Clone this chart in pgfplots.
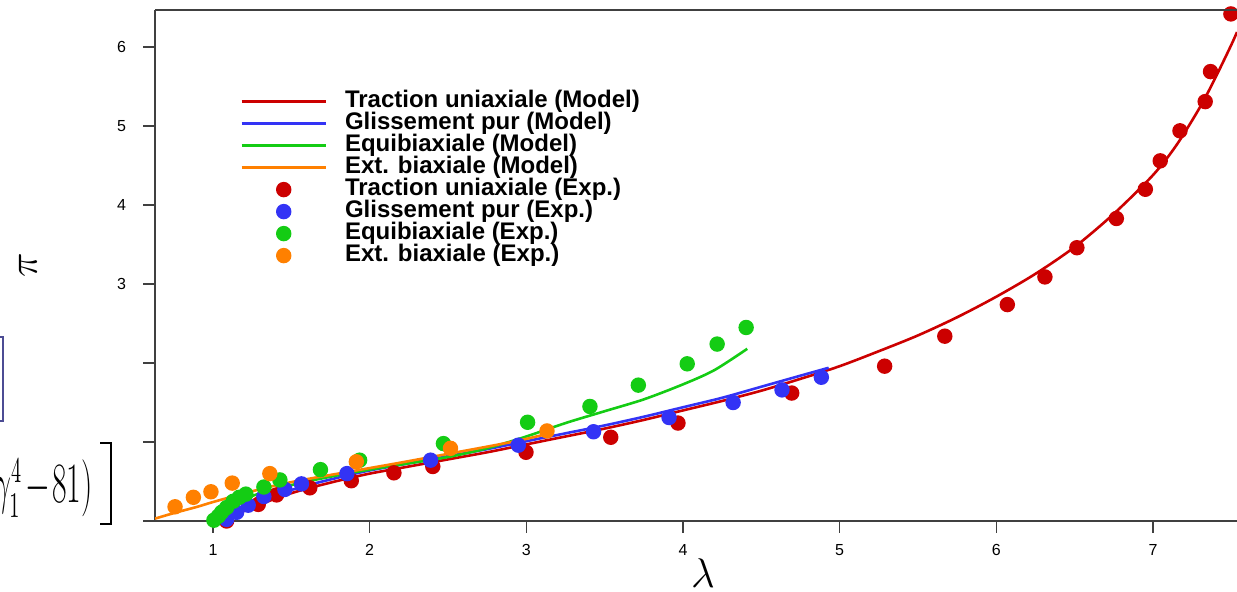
\documentclass[border=0pt]{standalone}
\usepackage{fontspec}
\setmainfont{Liberation Sans}
\usepackage{pgfplots}
\pgfplotsset{compat=1.18}

\definecolor{cRed}{RGB}{204,0,0}
\definecolor{cBlue}{RGB}{51,51,245}
\definecolor{cGreen}{RGB}{20,204,20}
\definecolor{cOrange}{RGB}{255,128,0}
\definecolor{axisgray}{RGB}{64,64,64}

\begin{document}
\begin{tikzpicture}
% page = reference pixel grid (1 px = 0.5pt)
\useasboundingbox (0pt,-296pt) rectangle (618.5pt,0pt);

\begin{axis}[
    at={(77.5pt,-260.5pt)}, anchor=south west,
    scale only axis, width=541pt, height=255.5pt,
    xmin=0.63, xmax=7.536, ymin=0, ymax=6.47,
    axis lines=left,
    axis line style={-, draw=axisgray, line width=1pt},
    every outer x axis line/.append style={-},
    every outer y axis line/.append style={-},
    xtick={1,...,7}, ytick={0,...,6}, yticklabels={,,,3,4,5,6},
    tick align=outside, major tick length=6pt,
    tick style={draw=axisgray, line width=0.7pt},
    tick label style={font=\fontsize{8}{9}\selectfont},
    yticklabel style={xshift=-5pt},
    xticklabel style={yshift=-2pt},
    /pgf/number format/assume math mode=true,
    legend cell align=left,
    legend image code/.code={\draw[mark repeat=2,mark phase=2,#1] plot coordinates {(0pt,0pt) (21pt,0pt) (42pt,0pt)};},
    legend style={at={(rel axis cs:0.0786,0.843)}, anchor=north west,
        draw=none, fill=none, inner sep=0pt, row sep=0pt, column sep=9pt,
        font=\bfseries\fontsize{12}{12}\selectfont,
        nodes={inner ysep=0pt, inner xsep=0pt, text height=8.6pt, text depth=2.4pt}},
    every axis plot/.append style={line width=1.3pt},
]

% model curves
\addplot[cRed, no marks, smooth] coordinates {
(1.00,0) (1.05,0.03) (1.1,0.06) (1.2,0.13) (1.3,0.21) (1.45,0.32) (1.6,0.41)
(1.8,0.51) (2.0,0.60) (2.25,0.69) (2.5,0.78) (2.75,0.87) (3.0,0.97) (3.25,1.07)
(3.5,1.17) (3.75,1.28) (4.0,1.40) (4.25,1.52) (4.5,1.65) (4.75,1.80) (5.0,1.96)
(5.25,2.15) (5.5,2.35) (5.75,2.58) (6.0,2.84) (6.25,3.13) (6.5,3.47) (6.75,3.89)
(7.0,4.38) (7.15,4.76) (7.3,5.24) (7.4,5.62) (7.5,6.03) (7.536,6.19)
};
\addlegendentry{Traction uniaxiale (Model)}

\addplot[cBlue, no marks, smooth] coordinates {
(1.02,0) (1.05,0.04) (1.1,0.09) (1.2,0.17) (1.3,0.25) (1.45,0.36) (1.6,0.45)
(1.8,0.55) (2.0,0.64) (2.25,0.73) (2.5,0.82) (2.75,0.91) (3.0,1.01) (3.25,1.11)
(3.5,1.21) (3.75,1.32) (4.0,1.44) (4.25,1.56) (4.5,1.70) (4.75,1.84) (4.93,1.94)
};
\addlegendentry{Glissement pur (Model)}

\addplot[cGreen, no marks, smooth] coordinates {
(1.0,0) (1.02,0.06) (1.05,0.12) (1.1,0.19) (1.15,0.24) (1.2,0.28) (1.3,0.35)
(1.45,0.43) (1.6,0.50) (1.8,0.58) (2.0,0.65) (2.25,0.73) (2.5,0.81) (2.75,0.92)
(3.0,1.07) (3.25,1.24) (3.5,1.39) (3.75,1.54) (4.0,1.73) (4.2,1.91) (4.41,2.18)
};
\addlegendentry{Equibiaxiale (Model)}

\addplot[cOrange, no marks, smooth] coordinates {
(0.63,0.03) (0.75,0.10) (0.9,0.18) (1.0,0.24) (1.2,0.35) (1.4,0.45) (1.6,0.53)
(1.9,0.635) (2.2,0.74) (2.5,0.85) (2.8,0.96) (3.0,1.04) (3.15,1.11)
};
\addlegendentry{Ext. biaxiale (Model)}

% experimental points
\addplot[cRed, only marks, mark=*, mark size=3.2pt] coordinates {
(1.087,0.00) (1.289,0.21) (1.406,0.33) (1.618,0.42) (1.883,0.51) (2.155,0.61)
(2.403,0.69) (2.998,0.87) (3.539,1.06) (3.968,1.24) (4.694,1.62) (5.287,1.96)
(5.671,2.34) (6.07,2.74) (6.310,3.09) (6.514,3.46) (6.766,3.83) (6.951,4.20)
(7.046,4.56) (7.172,4.94) (7.333,5.31) (7.367,5.69) (7.497,6.42)
};
\addlegendentry{Traction uniaxiale (Exp.)}

\addplot[cBlue, only marks, mark=*, mark size=3.2pt] coordinates {
(1.087,0.02) (1.151,0.11) (1.225,0.20) (1.325,0.31) (1.459,0.40) (1.565,0.47)
(1.855,0.60) (2.389,0.77) (2.949,0.96) (3.429,1.13) (3.911,1.31) (4.320,1.50)
(4.632,1.66) (4.883,1.82)
};
\addlegendentry{Glissement pur (Exp.)}

\addplot[cGreen, only marks, mark=*, mark size=3.2pt] coordinates {
(1.006,0.01) (1.034,0.06) (1.055,0.11) (1.087,0.17) (1.129,0.25) (1.168,0.30)
(1.210,0.34) (1.325,0.43) (1.427,0.52) (1.686,0.65) (1.936,0.77) (2.471,0.98)
(3.008,1.25) (3.406,1.45) (3.715,1.72) (4.027,1.99) (4.218,2.24) (4.403,2.45)
};
\addlegendentry{Equibiaxiale (Exp.)}

\addplot[cOrange, only marks, mark=*, mark size=3.2pt] coordinates {
(0.758,0.18) (0.875,0.30) (0.987,0.37) (1.123,0.48) (1.363,0.60) (1.915,0.75)
(2.516,0.92) (3.132,1.14)
};
\addlegendentry{Ext. biaxiale (Exp.)}
\end{axis}

\begin{scope}[x=0.5pt,y=-0.5pt]
% top frame line
\draw[axisgray, line width=1pt] (155,10) -- (1237,10);
% axis labels
\node[font=\fontsize{20}{24}\selectfont, inner sep=0pt] at (703,573) {$\lambda$};
\node[font=\fontsize{22}{26}\selectfont, rotate=90, inner sep=0pt] at (28,265) {$\pi$};
% cropped fragments of a neighbouring equation
\draw[black!60!blue!70, line width=0.8pt] (0,337) -- (3,337) -- (3,421) -- (0,421);
\node[anchor=base east, font=\fontsize{16}{18}\selectfont, xscale=0.92, yscale=1.65, inner sep=0pt]
    at (93,503) {$\gamma_1^4\mskip2mu{-}\mskip1mu81)$};
\draw[black, line width=0.8pt] (100,443) -- (111,443) -- (111,524) -- (100,524);
\end{scope}
\end{tikzpicture}
\end{document}
